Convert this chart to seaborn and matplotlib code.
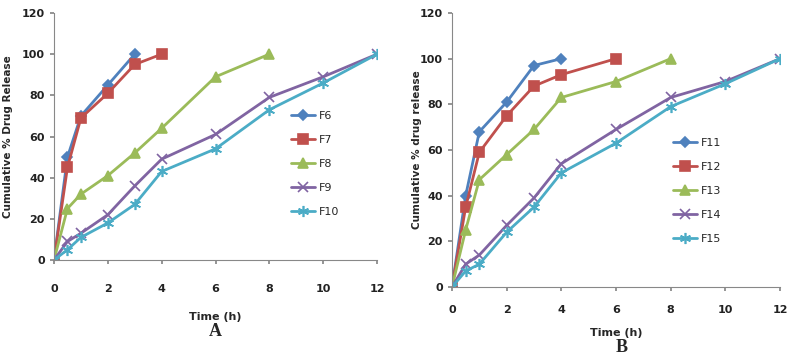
import pandas as pd
import matplotlib.pyplot as plt
import seaborn as sns

# Panel A data
time_a = [0, 0.5, 1, 2, 3, 4, 6, 8, 10, 12]
f6 = [0, 50, 70, 85, 100]
f7 = [0, 45, 69, 81, 95, 100]
f8 = [0, 25, 32, 41, 52, 64, 89, 100]
f9 = [0, 9, 13, 22, 36, 49, 61, 79, 89, 100]
f10 = [0, 5, 11, 18, 27, 43, 54, 73, 86, 100]

# Panel B data
time_b = [0, 0.5, 1, 2, 3, 4, 6, 8, 10, 12]
f11 = [0, 40, 68, 81, 97, 100]
f12 = [0, 35, 59, 75, 88, 93, 100]
f13 = [0, 25, 47, 58, 69, 83, 90, 100]
f14 = [0, 10, 14, 27, 39, 54, 69, 83, 90, 100]
f15 = [0, 7, 10, 24, 35, 50, 63, 79, 89, 100]

colors = ['#4F81BD', '#C0504D', '#9BBB59', '#8064A2', '#4BACC6']
markers = ['D', 's', '^', 'x', (6, 2, 0)]
msizes = [5, 7, 7, 7, 8]

sns.set_theme(style="white")
plt.rcParams['font.family'] = ['DejaVu Sans']

fig = plt.figure(figsize=(7.98, 3.63), dpi=100)
ax_a = fig.add_axes([54/798, 1 - 260/363, (377-54)/798, (260-13)/363])
ax_b = fig.add_axes([452/798, 1 - 287/363, (780-452)/798, (287-13)/363])


def draw(ax, times, series, names):
    for i, (vals, name) in enumerate(zip(series, names)):
        df = pd.DataFrame({'t': times[:len(vals)], 'v': vals})
        sns.lineplot(data=df, x='t', y='v', ax=ax, color=colors[i], marker=markers[i],
                     markersize=msizes[i], markeredgecolor=colors[i], markeredgewidth=1.2,
                     linewidth=2, label=name)
    ax.set_xlim(0, 12)
    ax.set_ylim(0, 120)
    ax.set_xticks(range(0, 13, 2))
    ax.set_yticks(range(0, 121, 20))
    for s in ['top', 'right']:
        ax.spines[s].set_visible(False)
    for s in ['left', 'bottom']:
        ax.spines[s].set_color('#888888')
        ax.spines[s].set_linewidth(0.8)
    ax.tick_params(axis='both', labelsize=8, length=3, color='#888888', direction='out',
                   bottom=True, left=True)
    for lab in ax.get_xticklabels() + ax.get_yticklabels():
        lab.set_fontweight('bold')
        lab.set_color('#222222')


draw(ax_a, time_a, [f6, f7, f8, f9, f10], ['F6', 'F7', 'F8', 'F9', 'F10'])
draw(ax_b, time_b, [f11, f12, f13, f14, f15], ['F11', 'F12', 'F13', 'F14', 'F15'])

ax_a.tick_params(axis='x', pad=14)
ax_b.tick_params(axis='x', pad=10)

ax_a.set_xlabel('Time (h)', fontsize=8, fontweight='bold')
ax_a.set_ylabel('Cumulative % Drug Release', fontsize=7.5, fontweight='bold')
ax_b.set_xlabel('Time (h)', fontsize=8, fontweight='bold')
ax_b.set_ylabel('Cumulative % drug release', fontsize=7.5, fontweight='bold')
ax_a.xaxis.set_label_coords(0.5, -0.21)
ax_a.yaxis.set_label_coords(-0.127, 0.498)
ax_b.xaxis.set_label_coords(0.5, -0.15)
ax_b.yaxis.set_label_coords(-0.091, 0.5)

ax_a.legend(loc='upper left', bbox_to_anchor=(0.72, 0.62), frameon=False, fontsize=8,
            labelspacing=1.25, handlelength=2.2, handletextpad=0.3, borderaxespad=0)
ax_b.legend(loc='upper left', bbox_to_anchor=(0.66, 0.56), frameon=False, fontsize=8,
            labelspacing=1.25, handlelength=2.2, handletextpad=0.3, borderaxespad=0)

fig.text(215/798, 1 - 332/363, 'A', ha='center', va='center', fontsize=13,
         fontweight='bold', family='Liberation Serif')
fig.text(622/798, 1 - 348/363, 'B', ha='center', va='center', fontsize=13,
         fontweight='bold', family='Liberation Serif')

fig.savefig('out.png', dpi=100)
